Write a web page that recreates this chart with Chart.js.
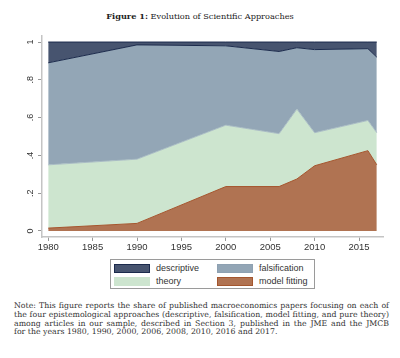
<!DOCTYPE html>
<html>
<head>
<meta charset="utf-8">
<script src="https://cdn.jsdelivr.net/npm/chart.js@4.4.1/dist/chart.umd.min.js"></script>
<style>
  body { margin: 0; background: #fff; }
  #wrap { position: relative; width: 400px; height: 358px; overflow: hidden; }
  #title { position: absolute; top: 11px; left: 0; width: 400px; text-align: center; font: 8.2px "DejaVu Serif", serif; color: #222; }
  #box { position: absolute; top: 28px; left: 0; width: 400px; height: 230px; }
  #legend { position: absolute; left: 110px; top: 259px; width: 205px; height: 30px; border: 1px solid #9a9a9a; box-sizing: border-box; font: 9px "Liberation Sans", Arial, sans-serif; color: #333; }
  .item { position: absolute; height: 11px; line-height: 10px; }
  .sw { position: absolute; left: 0; top: 1px; width: 36px; height: 9px; box-sizing: border-box; }
  .lbl { position: absolute; left: 42px; top: 0; white-space: nowrap; }
  #note { position: absolute; left: 14px; top: 302px; width: 375px; font: 7.8px "DejaVu Serif", serif; color: #333; line-height: 8.8px; }
  #note div { text-align: justify; text-align-last: justify; white-space: nowrap; }
  #note div.last { text-align-last: left; }
</style>
</head>
<body>
<div id="wrap">
  <div id="title"><b>Figure 1:</b> Evolution of Scientific Approaches</div>
  <div id="box"><canvas id="c" width="400" height="230"></canvas></div>
  <div id="legend"></div>
  <div id="note">
    <div>Note: This figure reports the share of published macroeconomics papers focusing on each of</div>
    <div>the four epistemological approaches (descriptive, falsification, model fitting, and pure theory)</div>
    <div>among articles in our sample, described in Section 3, published in the JME and the JMCB</div>
    <div class="last">for the years 1980, 1990, 2000, 2006, 2008, 2010, 2016 and 2017.</div>
  </div>
</div>
<script>
// data (shares, stacked to 1)
const years = [1980, 1990, 2000, 2006, 2008, 2010, 2016, 2017];
const modelFitting = [0.015, 0.04, 0.235, 0.235, 0.275, 0.345, 0.425, 0.35];
const theory = [0.335, 0.34, 0.325, 0.28, 0.37, 0.175, 0.16, 0.17];
const falsification = [0.54, 0.605, 0.42, 0.435, 0.325, 0.44, 0.38, 0.40];
const descriptive = [0.11, 0.015, 0.02, 0.05, 0.03, 0.04, 0.035, 0.08];
const xTicks = [1980, 1985, 1990, 1995, 2000, 2005, 2010, 2015];
const yTicks = [0, 0.2, 0.4, 0.6, 0.8, 1];
const yLabels = ['0', '.2', '.4', '.6', '.8', '1'];

// legend order as in the figure
const legendItems = [
    { name: 'descriptive', fill: '#47546f', edge: '#1b2a4c' },
    { name: 'falsification', fill: '#93a6b6', edge: '#8ea1b2' },
    { name: 'theory', fill: '#cde5cf', edge: '#cde5cf' },
    { name: 'model fitting', fill: '#b07352', edge: '#a4562e' }
];

const pts = vals => years.map((y, i) => ({ x: y, y: vals[i] }));

function mk(label, vals, fill, line, first) {
    return {
        label: label, data: pts(vals), backgroundColor: fill, borderColor: line,
        borderWidth: 1, pointRadius: 0, tension: 0, fill: first ? 'origin' : '-1'
    };
}

const yLabelPlugin = {
    id: 'yLabels',
    afterDraw(chart) {
        const ctx = chart.ctx, sc = chart.scales.y;
        ctx.save();
        ctx.fillStyle = '#333';
        ctx.font = '9px "Liberation Sans", Arial, sans-serif';
        ctx.textAlign = 'center';
        ctx.textBaseline = 'middle';
        yTicks.forEach((v, i) => {
            ctx.save();
            ctx.translate(31, sc.getPixelForValue(v));
            ctx.rotate(-Math.PI / 2);
            ctx.fillText(yLabels[i], 0, 0);
            ctx.restore();
        });
        ctx.restore();
    }
};

new Chart(document.getElementById('c'), {
    type: 'line',
    data: {
        datasets: [
            mk('model fitting', modelFitting, '#b07352', '#a4562e', true),
            mk('theory', theory, '#cde5cf', '#a9bcc4', false),
            mk('falsification', falsification, '#93a6b6', '#1b2a4c', false),
            mk('descriptive', descriptive, '#47546f', '#1b2a4c', false)
        ]
    },
    options: {
        responsive: false, animation: false,
        layout: { padding: { left: 0, right: 17, top: 8, bottom: 0 } },
        plugins: { legend: { display: false }, tooltip: { enabled: false } },
        scales: {
            x: {
                type: 'linear', min: 1979.3, max: 2017.7,
                afterBuildTicks: s => { s.ticks = xTicks.map(v => ({ value: v })); },
                afterFit: s => { s.height = 21; },
                border: { color: '#c4c4c4', width: 1.5 },
                grid: { drawOnChartArea: false, drawTicks: true, tickLength: 4, color: '#999' },
                ticks: { padding: 1, color: '#333', font: { size: 9.5, family: '"Liberation Sans", Arial, sans-serif' }, callback: v => String(v), maxRotation: 0 }
            },
            y: {
                stacked: true, min: -0.032, max: 1.032,
                afterBuildTicks: s => { s.ticks = yTicks.map(v => ({ value: v })); },
                afterFit: s => { s.width = 42; },
                border: { color: '#c4c4c4', width: 1.5 },
                grid: { drawOnChartArea: false, drawTicks: true, tickLength: 4, color: '#999' },
                ticks: { display: false }
            }
        }
    },
    plugins: [yLabelPlugin]
});

// legend box (two columns, like the Stata key)
const leg = document.getElementById('legend');
const cells = [[3, 3], [106, 3], [3, 16], [106, 16]];
legendItems.forEach((it, i) => {
    const d = document.createElement('div');
    d.className = 'item';
    d.style.left = cells[i][0] + 'px';
    d.style.top = cells[i][1] + 'px';
    d.innerHTML = `<div class="sw" style="background:${it.fill};border:1px solid ${it.edge}"></div><div class="lbl">${it.name}</div>`;
    leg.appendChild(d);
});
</script>
</body>
</html>
